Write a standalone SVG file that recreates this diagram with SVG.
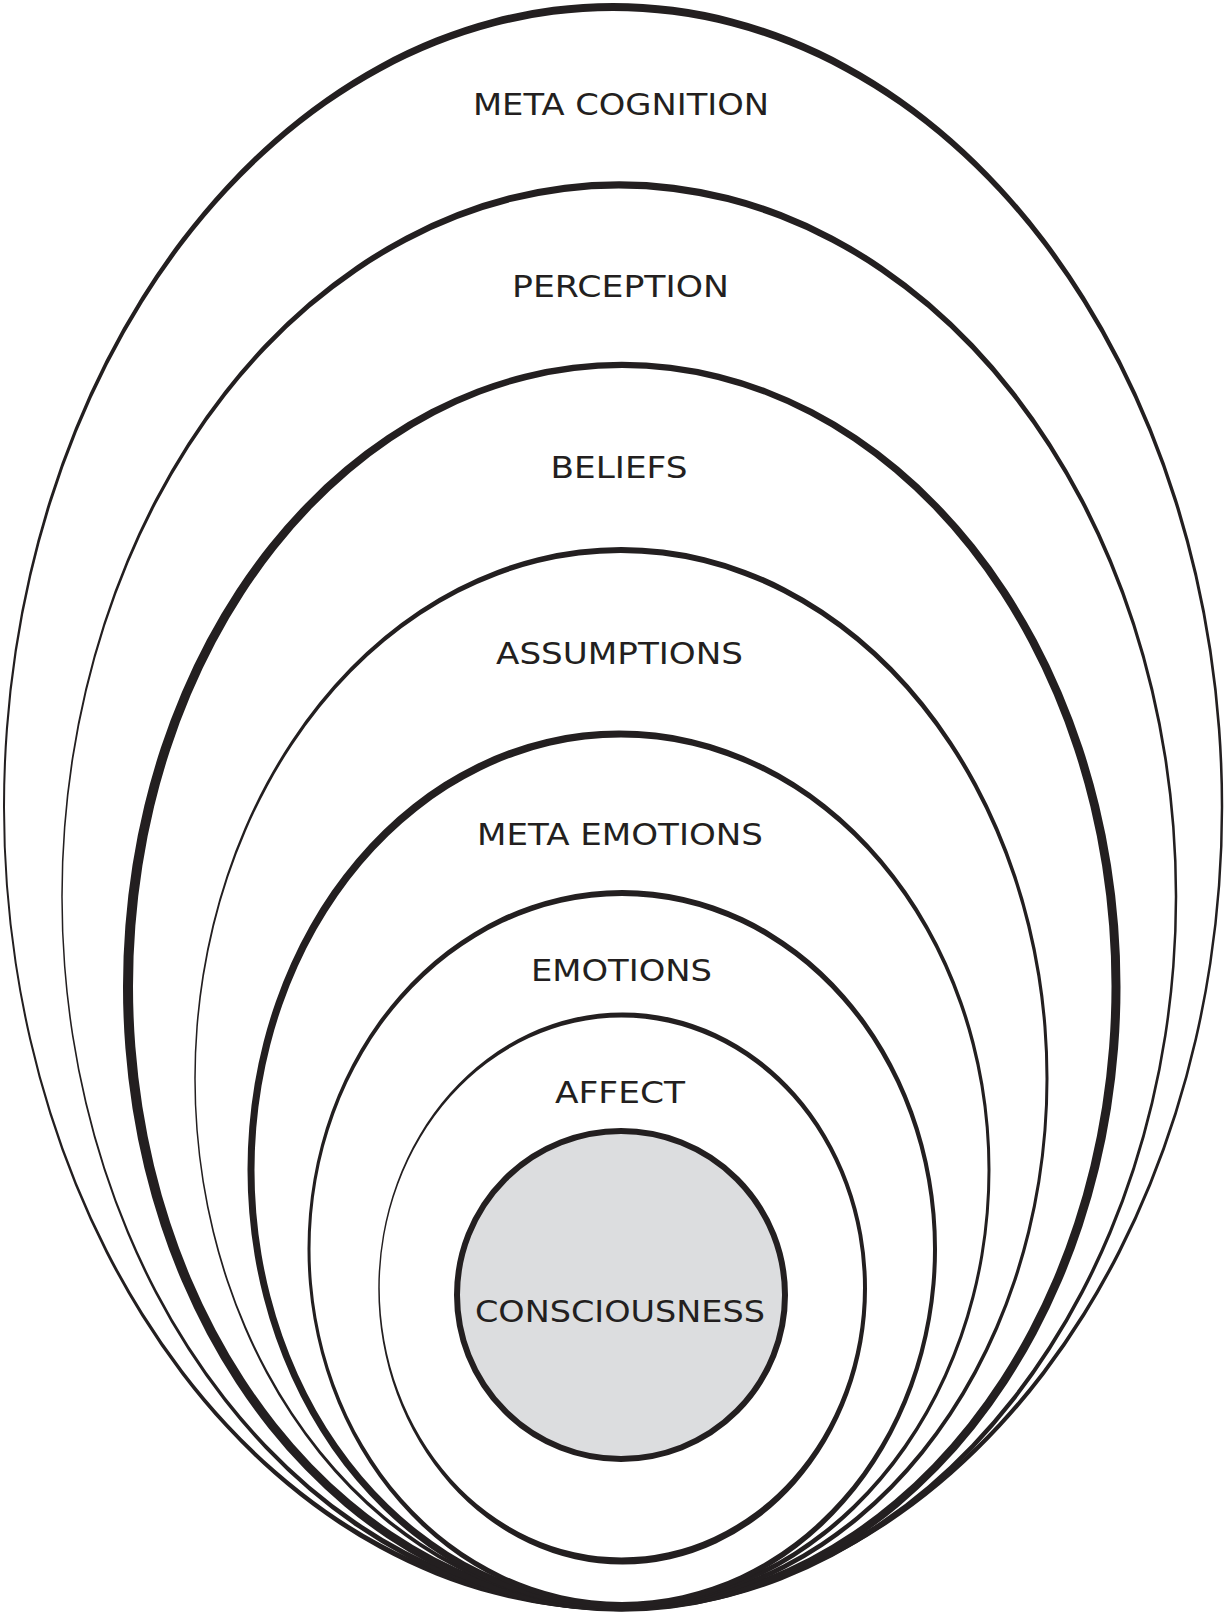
<svg xmlns="http://www.w3.org/2000/svg" width="1225" height="1616" viewBox="0 0 1225 1616">
<style>
.ring{fill:#231f20;fill-rule:evenodd;stroke:none}
.lbl{font-family:"DejaVu Sans","Open Sans",sans-serif;font-size:30px;fill:#231f20}
</style>
<rect width="1225" height="1616" fill="#ffffff"/>
<g id="meta-cognition">
<path class="ring" d="M3,806.5 A610.125,803.5 0 1 0 1223.25,806.5 A610.125,803.5 0 1 0 3,806.5 Z M5,807.5 A607.875,796.5 0 1 0 1220.75,807.5 A607.875,796.5 0 1 0 5,807.5 Z"/>
<text class="lbl" x="473" y="115" textLength="296" lengthAdjust="spacingAndGlyphs">META COGNITION</text>
</g>
<g id="perception">
<path class="ring" d="M61.25,896.25 A558,714.75 0 1 0 1177.25,896.25 A558,714.75 0 1 0 61.25,896.25 Z M62.75,896.75 A556,708.25 0 1 0 1174.75,896.75 A556,708.25 0 1 0 62.75,896.75 Z"/>
<text class="lbl" x="512" y="296.5" textLength="217" lengthAdjust="spacingAndGlyphs">PERCEPTION</text>
</g>
<g id="beliefs">
<path class="ring" d="M123,986.75 A498.75,624.75 0 1 0 1120.5,986.75 A498.75,624.75 0 1 0 123,986.75 Z M133,986.25 A489.25,618.25 0 1 0 1111.5,986.25 A489.25,618.25 0 1 0 133,986.25 Z"/>
<text class="lbl" x="550.5" y="478" textLength="137" lengthAdjust="spacingAndGlyphs">BELIEFS</text>
</g>
<g id="assumptions">
<path class="ring" d="M194.25,1078.25 A427.125,531.25 0 1 0 1048.5,1078.25 A427.125,531.25 0 1 0 194.25,1078.25 Z M195.75,1078.75 A424.875,525.75 0 1 0 1045.5,1078.75 A424.875,525.75 0 1 0 195.75,1078.75 Z"/>
<text class="lbl" x="496" y="664" textLength="247" lengthAdjust="spacingAndGlyphs">ASSUMPTIONS</text>
</g>
<g id="meta-emotions">
<path class="ring" d="M247.5,1169.75 A371.5,439.25 0 1 0 990.5,1169.75 A371.5,439.25 0 1 0 247.5,1169.75 Z M254.5,1170.25 A366.5,432.75 0 1 0 987.5,1170.25 A366.5,432.75 0 1 0 254.5,1170.25 Z"/>
<text class="lbl" x="477" y="845" textLength="286" lengthAdjust="spacingAndGlyphs">META EMOTIONS</text>
</g>
<g id="emotions">
<path class="ring" d="M307.5,1249 A314.75,359 0 1 0 937,1249 A314.75,359 0 1 0 307.5,1249 Z M310.5,1249 A311.25,353 0 1 0 933,1249 A311.25,353 0 1 0 310.5,1249 Z"/>
<text class="lbl" x="531" y="981" textLength="181" lengthAdjust="spacingAndGlyphs">EMOTIONS</text>
</g>
<g id="affect">
<path class="ring" d="M378.25,1288.5 A244.375,276 0 1 0 867,1288.5 A244.375,276 0 1 0 378.25,1288.5 Z M379.75,1287.5 A241.625,270 0 1 0 863,1287.5 A241.625,270 0 1 0 379.75,1287.5 Z"/>
<text class="lbl" x="555" y="1103" textLength="130" lengthAdjust="spacingAndGlyphs">AFFECT</text>
</g>
<g id="consciousness">
<circle cx="621" cy="1295" r="164" fill="#dcdddf" stroke="#231f20" stroke-width="6"/>
<text class="lbl" x="475" y="1322" textLength="290" lengthAdjust="spacingAndGlyphs">CONSCIOUSNESS</text>
</g>
</svg>
